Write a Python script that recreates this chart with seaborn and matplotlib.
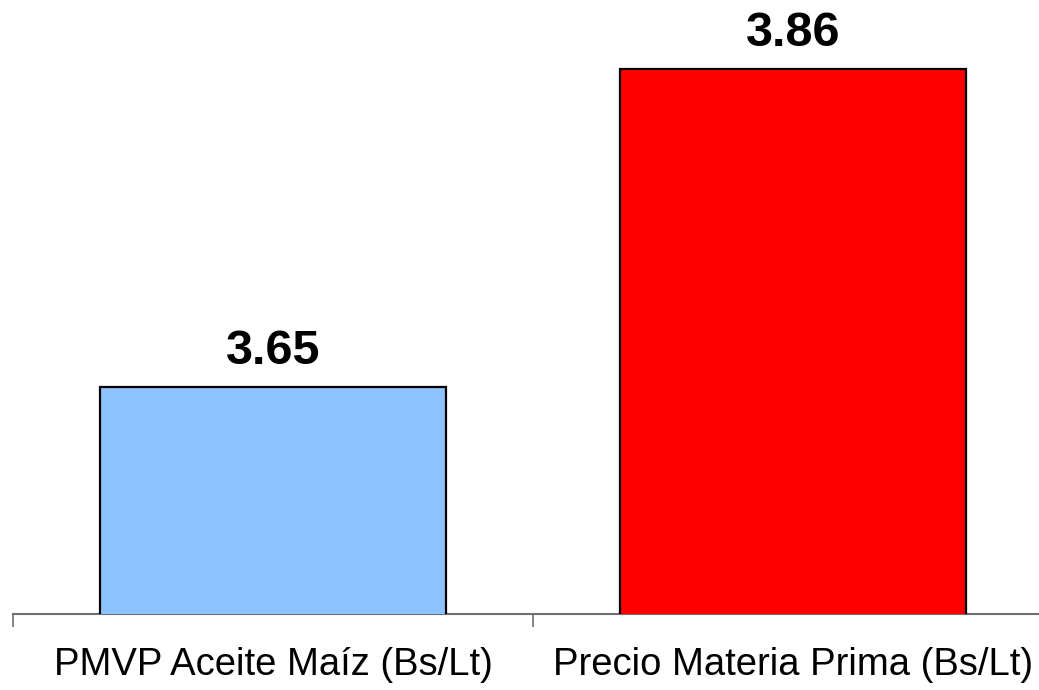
import matplotlib
matplotlib.use("Agg")
import matplotlib.pyplot as plt
import seaborn as sns
import pandas as pd

categories = ["PMVP Aceite Maíz (Bs/Lt)", "Precio Materia Prima (Bs/Lt)"]
values = [3.65, 3.86]
value_labels = ["3.65", "3.86"]
colors = ["#8DC4FF", "#FF0000"]

sns.set_theme(style="white")
plt.rcParams['font.family'] = ['Liberation Sans', 'DejaVu Sans']

df = pd.DataFrame({"cat": categories, "val": values})

fig = plt.figure(figsize=(10.39, 6.90), dpi=100)
ax = fig.add_axes([13/1039, 76/690, 1040/1039, 614/690])

sns.barplot(data=df, x="cat", y="val", hue="cat", palette=colors, width=0.665,
            saturation=1, edgecolor="black", linewidth=1.6, legend=False, ax=ax, zorder=3)

ax.set_xlim(-0.5, 1.5)
ax.set_ylim(3.5, 3.9055)

for i, (v, lab) in enumerate(zip(values, value_labels)):
    ax.annotate(lab, (i, v), xytext=(0, 9.5), textcoords="offset points",
                ha="center", va="bottom", fontsize=35, fontweight="bold", color="black")

for s in ["top", "right", "left"]:
    ax.spines[s].set_visible(False)
ax.spines["bottom"].set_color("#707070")
ax.spines["bottom"].set_linewidth(1.5)
ax.spines["bottom"].set_zorder(2)

ax.set_yticks([])
ax.set_xticks([-0.5, 0.5, 1.5])
ax.set_xticklabels(["", "", ""])
ax.tick_params(axis="x", which="major", direction="out", length=9.4, width=1.2,
               color="#707070", bottom=True)
ax.set_xticks([0, 1], minor=True)
ax.set_xticklabels(categories, minor=True)
ax.tick_params(axis="x", which="minor", length=0, pad=23.5, labelsize=27.5, labelcolor="black")
ax.set_xlabel("")
ax.set_ylabel("")

fig.savefig("out.png", dpi=100)
